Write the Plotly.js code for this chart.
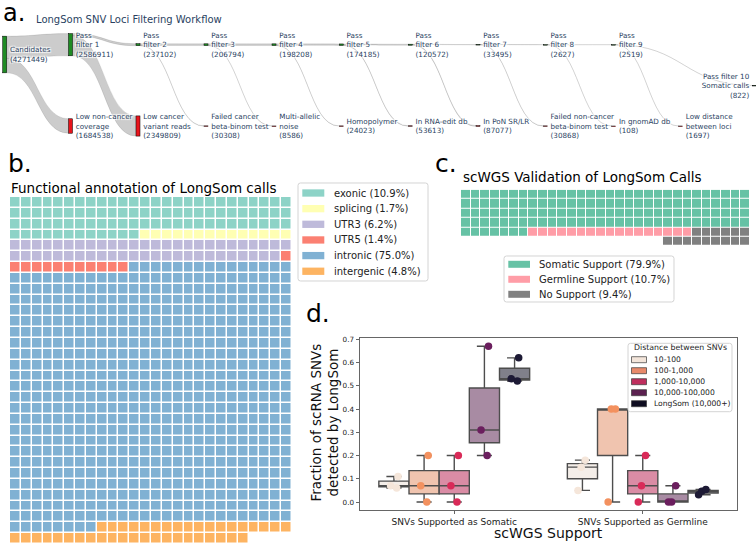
<!DOCTYPE html>
<html><head><meta charset="utf-8">
<script src="https://cdn.plot.ly/plotly-3.0.1.min.js"></script>
<style>html,body{margin:0;padding:0;background:#fff;}#chart{width:756px;height:546px;}</style>
</head><body><div id="chart"></div>
<script>
// ---------------- DATA ----------------
// Panel a: LongSom SNV loci filtering workflow
const passLabels = ['Candidates', 'Pass<br>filter 1', 'Pass<br>filter 2', 'Pass<br>filter 3', 'Pass<br>filter 4',
  'Pass<br>filter 5', 'Pass<br>filter 6', 'Pass<br>filter 7', 'Pass<br>filter 8', 'Pass<br>filter 9',
  'Pass filter 10<br>Somatic calls'];
const passCounts = [4271449, 2586911, 237102, 206794, 198208, 174185, 120572, 33495, 2627, 2519, 822];
const failLabels = ['Low non-cancer<br>coverage', 'Low cancer<br>variant reads', 'Failed cancer<br>beta-binom test',
  'Multi-allelic<br>noise', 'Homopolymer', 'In RNA-edit db', 'In PoN SR/LR',
  'Failed non-cancer<br>beta-binom test', 'In gnomAD db', 'Low distance<br>between loci'];
const failCounts = [1684538, 2349809, 30308, 8586, 24023, 53613, 87077, 30868, 108, 1697];

// Panel b: functional annotation of LongSom calls (waffle)
const annotCategories = ['exonic', 'splicing', 'UTR3', 'UTR5', 'intronic', 'intergenic'];
const annotCounts = [90, 14, 51, 12, 621, 40];
const annotPercents = ['10.9%', '1.7%', '6.2%', '1.4%', '75.0%', '4.8%'];

// Panel c: scWGS validation (waffle)
const validCategories = ['Somatic Support', 'Germline Support', 'No Support'];
const validCounts = [127, 17, 15];
const validPercents = ['79.9%', '10.7%', '9.4%'];

// Panel d: fraction of scRNA SNVs detected by LongSom
const supportGroups = ['SNVs Supported as Somatic', 'SNVs Supported as Germline'];
const distanceBins = ['10-100', '100-1,000', '1,000-10,000', '10,000-100,000', 'LongSom (10,000+)'];
const somaticFractions = [
  [0.06, 0.07, 0.11],
  [0.0, 0.07, 0.2],
  [0.0, 0.07, 0.2],
  [0.2, 0.31, 0.67],
  [0.52, 0.53, 0.62]
];
const germlineFractions = [
  [0.05, 0.15, 0.18],
  [0.0, 0.4, 0.4],
  [0.0, 0.07, 0.2],
  [0.0, 0.0, 0.07],
  [0.031, 0.046, 0.054]
];
const yTickVals = [0, 0.1, 0.2, 0.3, 0.4, 0.5, 0.6, 0.7];
const yTickText = ['0.0', '0.1', '0.2', '0.3', '0.4', '0.5', '0.6', '0.7'];

// ---------------- STYLE ----------------
const W = 756, H = 546;
const px = x => x / W;
const py = y => 1 - y / H;
const annotColors = ['#8DD3C7', '#FFFFB3', '#BEBADA', '#FB8072', '#80B1D3', '#FDB462'];
const validColors = ['#66C2A5', '#FF9DA7', '#808080'];
const pointColors = ['#F5E6DA', '#F3915F', '#D92A58', '#6B1F5E', '#1D1A35'];
const boxFillColors = ['#F4EEE9', '#F0C4AF', '#DA8CA5', '#A88BA3', '#80808A'];
const swatchColors = ['#F3E5DA', '#E8896A', '#BF2F5E', '#5B2150', '#0E0C20'];
const MPL = 'DejaVu Sans';

// sankey node placement (pixel centres of the columns)
const colPx = [4.7, 70.5, 138, 206, 274, 341.3, 410.3, 478, 545.3, 613.7, 680.5, 754.5];
const sankeyTop = 30, sankeyBottom = 140;
const passRowY = 44.7, failRowY = 126, candY = 54.5, finalY = 85.5;

// ---------------- BUILD ----------------
const nodeLabels = [], nodeColors = [], nodeX = [], nodeY = [];
const sH = sankeyBottom - sankeyTop;
const lastPass = passLabels.length - 1;
passLabels.forEach((l, i) => {
  nodeLabels.push(l + '<br>(' + passCounts[i] + ')');
  nodeColors.push('#1f8b24');
  nodeX.push(colPx[i === lastPass ? colPx.length - 1 : i] / W);
  const yc = i === 0 ? candY : (i === lastPass ? finalY : passRowY);
  nodeY.push((yc - sankeyTop) / sH);
});
failLabels.forEach((l, i) => {
  nodeLabels.push(l + '<br>(' + failCounts[i] + ')');
  nodeColors.push('#e8141c');
  nodeX.push(colPx[i + 1] / W);
  nodeY.push((failRowY - sankeyTop) / sH);
});
const src = [], tgt = [], val = [];
for (let k = 0; k < passCounts.length - 1; k++) {
  src.push(k); tgt.push(k + 1); val.push(passCounts[k + 1]);
  src.push(k); tgt.push(passLabels.length + k); val.push(failCounts[k]);
}

const sankey = {
  type: 'sankey', arrangement: 'snap',
  domain: {x: [0, 1], y: [py(sankeyBottom), py(sankeyTop)]},
  node: {label: nodeLabels, color: nodeColors, x: nodeX, y: nodeY, pad: 8, thickness: 4,
         line: {color: nodeColors, width: 0.5}, hoverinfo: 'skip'},
  link: {source: src, target: tgt, value: val, color: 'rgba(0,0,0,0.2)',
         line: {color: 'rgba(0,0,0,0.18)', width: 0.5}, hoverinfo: 'skip'},
  textfont: {family: MPL, size: 7.2, color: '#2a3f5f'}
};

function waffle(counts, nCols, snake) {
  const total = counts.reduce((a, b) => a + b, 0);
  const nRows = Math.ceil(total / nCols);
  const z = Array.from({length: nRows}, () => Array(nCols).fill(null));
  let k = 0;
  counts.forEach((c, ci) => {
    for (let j = 0; j < c; j++) {
      const r = Math.floor(k / nCols);
      let col = k % nCols;
      if (snake && r % 2 === 1) col = nCols - 1 - col;
      z[r][col] = ci; k++;
    }
  });
  return z;
}
function discreteScale(colors) {
  const n = colors.length, s = [];
  colors.forEach((c, i) => { s.push([i / n, c]); s.push([(i + 1) / n, c]); });
  return s;
}
const zB = waffle(annotCounts, 26, false);
const zC = waffle(validCounts, 30, true);

const heatB = {type: 'heatmap', z: zB, xaxis: 'x', yaxis: 'y', colorscale: discreteScale(annotColors),
  zmin: -0.5, zmax: annotColors.length - 0.5, showscale: false, xgap: 1.5, ygap: 1.5, hoverinfo: 'skip'};
const heatC = {type: 'heatmap', z: zC, xaxis: 'x2', yaxis: 'y2', colorscale: discreteScale(validColors),
  zmin: -0.5, zmax: validColors.length - 0.5, showscale: false, xgap: 1, ygap: 1, hoverinfo: 'skip'};

const boxes = distanceBins.map((name, i) => ({
  type: 'box', name: name, xaxis: 'x3', yaxis: 'y3',
  x: somaticFractions[i].map(() => supportGroups[0]).concat(germlineFractions[i].map(() => supportGroups[1])),
  y: somaticFractions[i].concat(germlineFractions[i]),
  boxpoints: 'all', jitter: 0.35, pointpos: 0, quartilemethod: 'inclusive',
  fillcolor: boxFillColors[i], line: {color: '#4d4d4d', width: 1.4}, whiskerwidth: 0.5,
  marker: {color: pointColors[i], size: 7.5}, showlegend: false, hoverinfo: 'skip'
}));

// ---------------- LAYOUT HELPERS ----------------
const shapes = [], annotations = [];
function rr(x0, y0, x1, y1, r) {
  const P = (x, y) => (x / W).toFixed(5) + ',' + (1 - y / H).toFixed(5);
  return 'M' + P(x0 + r, y0) + ' L' + P(x1 - r, y0) + ' Q' + P(x1, y0) + ' ' + P(x1, y0 + r) +
    ' L' + P(x1, y1 - r) + ' Q' + P(x1, y1) + ' ' + P(x1 - r, y1) + ' L' + P(x0 + r, y1) +
    ' Q' + P(x0, y1) + ' ' + P(x0, y1 - r) + ' L' + P(x0, y0 + r) + ' Q' + P(x0, y0) + ' ' + P(x0 + r, y0) + ' Z';
}
function text(t, x, y, size, opts) {
  annotations.push(Object.assign({text: t, x: px(x), y: py(y), xref: 'paper', yref: 'paper',
    showarrow: false, xanchor: 'left', yanchor: 'middle',
    font: {family: MPL, size: size, color: '#111'}}, opts || {}));
}
function legendBox(box, labels, colors, cfg) {
  shapes.push({type: 'path', xref: 'paper', yref: 'paper', path: rr(box[0], box[1], box[2], box[3], 2.5),
    fillcolor: 'rgba(255,255,255,0.9)', line: {color: '#d4d4d4', width: 1}});
  labels.forEach((lab, i) => {
    const yc = cfg.y0 + i * cfg.step;
    shapes.push({type: 'rect', xref: 'paper', yref: 'paper', x0: px(cfg.sx0), x1: px(cfg.sx1),
      y0: py(yc + cfg.sh / 2), y1: py(yc - cfg.sh / 2), fillcolor: colors[i],
      line: {color: cfg.edge || colors[i], width: cfg.edge ? 0.7 : 0}});
    text(lab, cfg.tx, yc, cfg.size, {font: {family: MPL, size: cfg.size, color: '#222'}});
  });
}

// panel letters
text('a.', 1, 13, 24, {font: {family: MPL, size: 24, color: '#000'}});
text('b.', 6, 163.4, 25, {font: {family: MPL, size: 25, color: '#000'}});
text('c.', 433.5, 163.4, 25, {font: {family: MPL, size: 25, color: '#000'}});
text('d.', 304, 313.4, 25, {font: {family: MPL, size: 25, color: '#000'}});
// panel titles
text('Functional annotation of LongSom calls', 9, 187.5, 13.5, {font: {family: MPL, size: 13.5, color: '#000'}});
text('scWGS Validation of LongSom Calls', 460.5, 177, 13.5, {font: {family: MPL, size: 13.5, color: '#000'}});
// legends
legendBox([298, 183, 428, 281], annotCategories.map((c, i) => c + ' (' + annotPercents[i] + ')'), annotColors,
  {y0: 193, step: 15.65, sx0: 302.3, sx1: 324.3, sh: 7.3, tx: 331.5, size: 10});
legendBox([504, 256, 674, 302], validCategories.map((c, i) => c + ' (' + validPercents[i] + ')'), validColors,
  {y0: 264.3, step: 15, sx0: 508.3, sx1: 530, sh: 7, tx: 536.5, size: 10});
legendBox([628, 343.3, 732, 411.7], distanceBins, swatchColors,
  {y0: 359.7, step: 11, sx0: 631.5, sx1: 646.5, sh: 6, tx: 652, size: 7.6, edge: '#3a3a3a'});
text('Distance between SNVs', 680, 347.5, 7.8, {xanchor: 'center', font: {family: MPL, size: 7.8, color: '#222'}});
// axis titles for panel d
text('Fraction of scRNA SNVs<br>detected by LongSom', 324.5, 423, 13.5,
  {xanchor: 'center', textangle: -90, font: {family: MPL, size: 13.5, color: '#111'}});
text('scWGS Support', 548.5, 533, 14, {xanchor: 'center', font: {family: MPL, size: 14, color: '#111'}});

const hiddenAx = {visible: false, showgrid: false, zeroline: false, fixedrange: true};
const layout = {
  width: W, height: H, margin: {l: 0, r: 0, t: 0, b: 0},
  paper_bgcolor: '#fff', plot_bgcolor: 'rgba(0,0,0,0)', showlegend: false,
  title: {text: 'LongSom SNV Loci Filtering Workflow', x: px(36), xanchor: 'left', y: py(19.4), yanchor: 'middle',
    font: {family: MPL, size: 10, color: '#2a3f5f'}},
  xaxis: Object.assign({domain: [px(10), px(292)], range: [-0.5, 25.5], anchor: 'y'}, hiddenAx),
  yaxis: Object.assign({domain: [py(544), py(197)], range: [31.5, -0.5], anchor: 'x'}, hiddenAx),
  xaxis2: Object.assign({domain: [px(461), px(750)], range: [-0.5, 29.5], anchor: 'y2'}, hiddenAx),
  yaxis2: Object.assign({domain: [py(246), py(189.7)], range: [5.5, -0.5], anchor: 'x2'}, hiddenAx),
  xaxis3: {domain: [px(360), px(737)], anchor: 'y3', type: 'category', categoryorder: 'array',
    categoryarray: supportGroups, range: [-0.5, 1.5], showline: true, mirror: true, linecolor: '#666',
    linewidth: 1, ticks: 'outside', ticklen: 3.5, tickcolor: '#666', showgrid: false, zeroline: false,
    tickfont: {family: MPL, size: 9, color: '#222'}, fixedrange: true},
  yaxis3: {domain: [py(509.7), py(338.3)], anchor: 'x3', range: [-0.033, 0.704], tickvals: yTickVals,
    ticktext: yTickText, showline: true, mirror: true, linecolor: '#666', linewidth: 1, ticks: 'outside',
    ticklen: 3.5, tickcolor: '#666', showgrid: false, zeroline: false,
    tickfont: {family: MPL, size: 7.2, color: '#222'}, fixedrange: true},
  boxmode: 'group', boxgap: 0.2, boxgroupgap: 0,
  shapes: shapes, annotations: annotations
};

Plotly.newPlot('chart', [sankey, heatB, heatC].concat(boxes), layout, {displayModeBar: false, staticPlot: true});
</script></body></html>
